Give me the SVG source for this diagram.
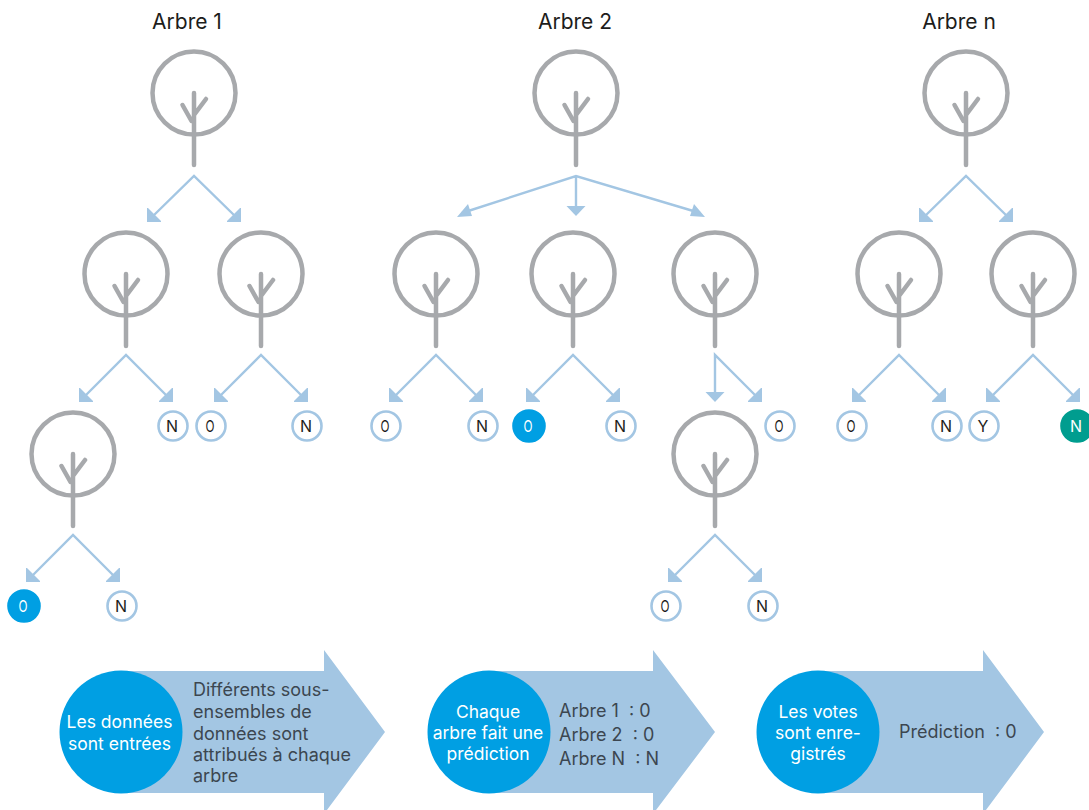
<svg xmlns="http://www.w3.org/2000/svg" width="1089" height="810" viewBox="0 0 1089 810">
<style>
text{font-family:"Inter","Liberation Sans",sans-serif;white-space:pre}
.title{font-size:21px;fill:#1d1d1b;text-anchor:middle}
.t circle{fill:none;stroke:#a7a9ac;stroke-width:4.5}
.t path{fill:none;stroke:#a7a9ac;stroke-width:4.5;stroke-linecap:round}
.c{fill:none;stroke:#a3c6e3;stroke-width:2.4}
.h{fill:#a3c6e3}
.leaf circle{fill:#fff;stroke:#a3c6e3;stroke-width:2.6}
.leaf text{font-size:16px;fill:#1d1d1b;text-anchor:middle}
.leaf.blue circle{fill:#009fe3;stroke:#009fe3}
.leaf.teal circle{fill:#009d8f;stroke:#009d8f}
.leaf.blue text,.leaf.teal text{fill:#fff}
.band{fill:#a3c6e3}
.disc{fill:#009fe3}
.w{font-size:17.500px;fill:#fff;text-anchor:middle}
.d{font-size:18px;fill:#3c4650}
</style>
<defs>
<g id="tree" class="t"><circle r="41.500"/><path d="M0 0V72M-2.500 28L-11.500 12M0 22L12 6"/></g>
<path id="hl" class="h" d="M0 0V-14H1L14 -1V0Z"/>
<path id="hr" class="h" d="M0 0V-14H-1L-14 -1V0Z"/>
<path id="hd" class="h" d="M0 0L-9.500 -10H9.500Z"/>
</defs>
<g id="titles">
<text class="title" x="187" y="29">Arbre 1</text>
<text class="title" x="575" y="29">Arbre 2</text>
<text class="title" x="959" y="29">Arbre n</text>
</g>
<g id="connectors">
<path class="c" d="M152 217L194 176L236 217M84 397L126 355L168 397M219 397L261 355L303 397M31 577L73 535L115 577M394 397L436 355L478 397M531 397L573 355L615 397M715 392V355L757 397M673 577L715 535L757 577M924 217L966 176L1008 217M857 397L899 355L941 397M991 397L1033 355L1075 397M462 213L576 176L700 213M576 176V206"/>
<use href="#hl" x="147" y="222"/><use href="#hr" x="241" y="222"/>
<use href="#hl" x="79" y="402"/><use href="#hr" x="173" y="402"/>
<use href="#hl" x="214" y="402"/><use href="#hr" x="308" y="402"/>
<use href="#hl" x="26" y="582"/><use href="#hr" x="120" y="582"/>
<use href="#hl" x="389" y="402"/><use href="#hr" x="483" y="402"/>
<use href="#hl" x="526" y="402"/><use href="#hr" x="620" y="402"/>
<use href="#hd" x="715" y="402"/><use href="#hr" x="762" y="402"/>
<use href="#hl" x="668" y="582"/><use href="#hr" x="762" y="582"/>
<use href="#hl" x="919" y="222"/><use href="#hr" x="1013" y="222"/>
<use href="#hl" x="852" y="402"/><use href="#hr" x="946" y="402"/>
<use href="#hl" x="986" y="402"/><use href="#hr" x="1080" y="402"/>
<use href="#hd" x="576" y="216"/>
<path class="h" d="M457 217L468 204L472 216ZM705 217L694 204L690 216Z"/>
</g>
<g id="tree-1-root"><use href="#tree" x="194" y="93"/></g>
<g id="tree-1-a"><use href="#tree" x="126" y="274"/></g>
<g id="tree-1-b"><use href="#tree" x="261" y="274"/></g>
<g id="tree-1-c"><use href="#tree" x="73" y="454"/></g>
<g id="tree-2-root"><use href="#tree" x="576" y="93"/></g>
<g id="tree-2-a"><use href="#tree" x="436" y="274"/></g>
<g id="tree-2-b"><use href="#tree" x="573" y="274"/></g>
<g id="tree-2-c"><use href="#tree" x="715" y="274"/></g>
<g id="tree-2-d"><use href="#tree" x="715" y="454"/></g>
<g id="tree-n-root"><use href="#tree" x="966" y="93"/></g>
<g id="tree-n-a"><use href="#tree" x="899" y="274"/></g>
<g id="tree-n-b"><use href="#tree" x="1033" y="274"/></g>
<g id="leaf-1" class="leaf"><circle cx="173" cy="426" r="14.500"/><text x="172" y="432">N</text></g>
<g id="leaf-2" class="leaf"><circle cx="211" cy="426" r="14.500"/><text x="210" y="432" textLength="9" lengthAdjust="spacingAndGlyphs">O</text></g>
<g id="leaf-3" class="leaf"><circle cx="307" cy="426" r="14.500"/><text x="306" y="432">N</text></g>
<g id="leaf-4" class="leaf blue"><circle cx="24" cy="606" r="15.500"/><text x="23" y="612" textLength="9" lengthAdjust="spacingAndGlyphs">O</text></g>
<g id="leaf-5" class="leaf"><circle cx="122" cy="606" r="14.500"/><text x="121" y="612">N</text></g>
<g id="leaf-6" class="leaf"><circle cx="386" cy="426" r="14.500"/><text x="385" y="432" textLength="9" lengthAdjust="spacingAndGlyphs">O</text></g>
<g id="leaf-7" class="leaf"><circle cx="483" cy="426" r="14.500"/><text x="482" y="432">N</text></g>
<g id="leaf-8" class="leaf blue"><circle cx="529" cy="426" r="15.500"/><text x="528" y="432" textLength="9" lengthAdjust="spacingAndGlyphs">O</text></g>
<g id="leaf-9" class="leaf"><circle cx="621" cy="426" r="14.500"/><text x="620" y="432">N</text></g>
<g id="leaf-10" class="leaf"><circle cx="780" cy="426" r="14.500"/><text x="779" y="432" textLength="9" lengthAdjust="spacingAndGlyphs">O</text></g>
<g id="leaf-11" class="leaf"><circle cx="852" cy="426" r="14.500"/><text x="851" y="432" textLength="9" lengthAdjust="spacingAndGlyphs">O</text></g>
<g id="leaf-12" class="leaf"><circle cx="947" cy="426" r="14.500"/><text x="946" y="432">N</text></g>
<g id="leaf-13" class="leaf"><circle cx="984" cy="426" r="14.500"/><text x="983" y="432">Y</text></g>
<g id="leaf-14" class="leaf teal"><circle cx="1077" cy="426" r="15.500"/><text x="1076" y="432">N</text></g>
<g id="leaf-15" class="leaf"><circle cx="666" cy="606" r="14.500"/><text x="665" y="612" textLength="9" lengthAdjust="spacingAndGlyphs">O</text></g>
<g id="leaf-16" class="leaf"><circle cx="763" cy="606" r="14.500"/><text x="762" y="612">N</text></g>
<g id="step-1">
<path class="band" d="M121 671H324V650L385 732L324 814V793H121Z"/>
<circle class="disc" cx="121" cy="732" r="61.500"/>
<text class="w" x="119.500" y="728">Les données</text>
<text class="w" x="119.500" y="750">sont entrées</text>
<text class="d" x="193" y="696">Différents sous-</text>
<text class="d" x="193" y="718">ensembles de</text>
<text class="d" x="193" y="740">données sont</text>
<text class="d" x="193" y="761">attribués à chaque</text>
<text class="d" x="193" y="782">arbre</text>
</g>
<g id="step-2">
<path class="band" d="M489 671H653V650L715 732L653 814V793H489Z"/>
<circle class="disc" cx="489" cy="732" r="61.500"/>
<text class="w" x="488" y="718">Chaque</text>
<text class="w" x="488" y="739">arbre fait une</text>
<text class="w" x="488" y="760">prédiction</text>
<text class="d" x="559" y="717">Arbre 1  : 0</text>
<text class="d" x="559" y="741">Arbre 2  : 0</text>
<text class="d" x="559" y="765">Arbre N  : N</text>
</g>
<g id="step-3">
<path class="band" d="M818 671H983V650L1044 732L983 814V793H818Z"/>
<circle class="disc" cx="818" cy="732" r="61.500"/>
<text class="w" x="818" y="718">Les votes</text>
<text class="w" x="818" y="739">sont enre-</text>
<text class="w" x="818" y="760">gistrés</text>
<text class="d" x="899" y="738">Prédiction  : 0</text>
</g>
</svg>
